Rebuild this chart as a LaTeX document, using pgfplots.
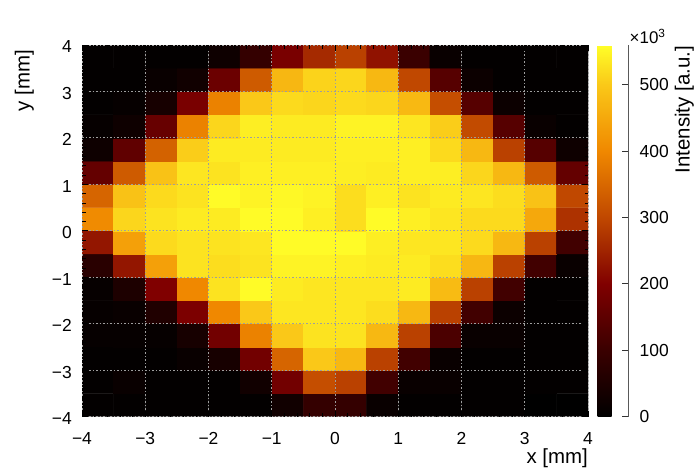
\documentclass[border=0pt]{standalone}
\usepackage{fontspec}
\setmainfont{Liberation Sans}
\usepackage{pgfplots}
\pgfplotsset{compat=1.18}
\usetikzlibrary{calc}

\pgfplotsset{
  colormap={hotish}{rgb255(0cm)=(0,0,0) rgb255(10cm)=(58,0,0) rgb255(20cm)=(128,0,0)
    rgb255(30cm)=(192,72,0) rgb255(40cm)=(240,136,0) rgb255(50cm)=(250,200,24)
    rgb255(56cm)=(255,255,40)},
}
\newcommand\tickfont{\fontsize{17.5}{20}\selectfont}
\newcommand\labfont{\fontsize{20.5}{24}\selectfont}

\begin{document}
\begin{tikzpicture}
\begin{axis}[
  scale only axis, width=506bp, height=371.5bp,
  xmin=-4, xmax=4, ymin=-4, ymax=4,
  axis on top,
  colormap name=hotish,
  point meta min=0, point meta max=560,
  xtick={-4,...,4}, ytick={-4,...,4},
  xticklabels={−4,−3,−2,−1,0,1,2,3,4},
  yticklabels={−4,−3,−2,−1,0,1,2,3,4},
  minor tick num=4,
  tick align=inside,
  major tick length=6bp, minor tick length=3.5bp,
  every tick/.style={black, line width=0.6bp},
  axis line style={draw=none},
  grid=major,
  major grid style={black!38, line width=0.8bp, dash pattern=on 1.5bp off 2bp},
  tick label style={font=\tickfont},
  xticklabel style={anchor=base, inner sep=0pt, yshift=-27.7bp},
  yticklabel style={anchor=east, inner sep=0pt, xshift=-10bp, yshift=-2bp},
  extra description/.code={
    \node[anchor=base east, inner sep=0pt, yshift=-47bp, font=\labfont] at (rel axis cs:1,0) {x [mm]};
    \node[xshift=-52.4bp, yshift=-5bp, rotate=90, anchor=base east, inner sep=0pt, font=\labfont] at (rel axis cs:0,1) {y [mm]};
  },
  colorbar,
  colorbar style={
    scale only axis, width=31bp, height=371.5bp,
    at={(parent axis.north east)}, anchor=north west, xshift=1bp,
    ytick={0,100,...,500},
    ytick pos=right, yticklabel pos=right,
    tick align=inside, major tick length=7bp,
    every tick/.style={black!80, line width=0.7bp},
    axis line style={draw=none},
    /pgf/number format/assume math mode=true,
    yticklabel style={anchor=west, inner sep=0pt, xshift=11bp, font=\tickfont},
    extra description/.code={
      \draw[black!65, line width=0.8bp] (rel axis cs:1,0) -- (rel axis cs:1,1);
      \node[anchor=base west, inner sep=0pt, xshift=1bp, yshift=1.4bp, font=\fontsize{17}{20}\selectfont]
        at (rel axis cs:1,1) {×10\textsuperscript{3}};
      \node[xshift=61bp, yshift=-1bp, rotate=90, anchor=base east, inner sep=0pt, font=\labfont]
        at (rel axis cs:1,1) {Intensity [a.u.]};
    },
  },
]
\addplot[matrix plot*, mesh/cols=16, point meta=explicit] coordinates {
(-3.75,-3.75) [5] (-3.25,-3.75) [5] (-2.75,-3.75) [5] (-2.25,-3.75) [5] (-1.75,-3.75) [5] (-1.25,-3.75) [5] (-0.75,-3.75) [30] (-0.25,-3.75) [90] (0.25,-3.75) [90] (0.75,-3.75) [15] (1.25,-3.75) [5] (1.75,-3.75) [5] (2.25,-3.75) [5] (2.75,-3.75) [5] (3.25,-3.75) [0] (3.75,-3.75) [0]
(-3.75,-3.25) [5] (-3.25,-3.25) [15] (-2.75,-3.25) [5] (-2.25,-3.25) [5] (-1.75,-3.25) [5] (-1.25,-3.25) [30] (-0.75,-3.25) [180] (-0.25,-3.25) [310] (0.25,-3.25) [290] (0.75,-3.25) [110] (1.25,-3.25) [15] (1.75,-3.25) [15] (2.25,-3.25) [5] (2.75,-3.25) [5] (3.25,-3.25) [5] (3.75,-3.25) [5]
(-3.75,-2.75) [5] (-3.25,-2.75) [5] (-2.75,-2.75) [5] (-2.25,-2.75) [15] (-1.75,-2.75) [40] (-1.25,-2.75) [180] (-0.75,-2.75) [345] (-0.25,-2.75) [500] (0.25,-2.75) [475] (0.75,-2.75) [290] (1.25,-2.75) [110] (1.75,-2.75) [15] (2.25,-2.75) [5] (2.75,-2.75) [5] (3.25,-2.75) [5] (3.75,-2.75) [5]
(-3.75,-2.25) [10] (-3.25,-2.25) [10] (-2.75,-2.25) [10] (-2.25,-2.25) [40] (-1.75,-2.25) [180] (-1.25,-2.25) [390] (-0.75,-2.25) [500] (-0.25,-2.25) [530] (0.25,-2.25) [530] (0.75,-2.25) [475] (1.25,-2.25) [290] (1.75,-2.25) [125] (2.25,-2.25) [15] (2.75,-2.25) [15] (3.25,-2.25) [5] (3.75,-2.25) [5]
(-3.75,-1.75) [10] (-3.25,-1.75) [15] (-2.75,-1.75) [55] (-2.25,-1.75) [195] (-1.75,-1.75) [400] (-1.25,-1.75) [500] (-0.75,-1.75) [533] (-0.25,-1.75) [533] (0.25,-1.75) [533] (0.75,-1.75) [523] (1.25,-1.75) [475] (1.75,-1.75) [290] (2.25,-1.75) [110] (2.75,-1.75) [20] (3.25,-1.75) [5] (3.75,-1.75) [5]
(-3.75,-1.25) [10] (-3.25,-1.25) [50] (-2.75,-1.25) [200] (-2.25,-1.25) [400] (-1.75,-1.25) [530] (-1.25,-1.25) [556] (-0.75,-1.25) [538] (-0.25,-1.25) [533] (0.25,-1.25) [533] (0.75,-1.25) [533] (1.25,-1.25) [538] (1.75,-1.25) [480] (2.25,-1.25) [290] (2.75,-1.25) [110] (3.25,-1.25) [5] (3.75,-1.25) [5]
(-3.75,-0.75) [70] (-3.25,-0.75) [230] (-2.75,-0.75) [437] (-2.25,-0.75) [530] (-1.75,-0.75) [523] (-1.25,-0.75) [530] (-0.75,-0.75) [547] (-0.25,-0.75) [547] (0.25,-0.75) [543] (0.75,-0.75) [538] (1.25,-0.75) [538] (1.75,-0.75) [523] (2.25,-0.75) [473] (2.75,-0.75) [290] (3.25,-0.75) [110] (3.75,-0.75) [15]
(-3.75,-0.25) [230] (-3.25,-0.25) [437] (-2.75,-0.25) [520] (-2.25,-0.25) [530] (-1.75,-0.25) [530] (-1.25,-0.25) [533] (-0.75,-0.25) [556] (-0.25,-0.25) [556] (0.25,-0.25) [556] (0.75,-0.25) [541] (1.25,-0.25) [533] (1.75,-0.25) [533] (2.25,-0.25) [520] (2.75,-0.25) [475] (3.25,-0.25) [290] (3.75,-0.25) [110]
(-3.75,0.25) [405] (-3.25,0.25) [515] (-2.75,0.25) [530] (-2.25,0.25) [538] (-1.75,0.25) [538] (-1.25,0.25) [556] (-0.75,0.25) [556] (-0.25,0.25) [543] (0.25,0.25) [523] (0.75,0.25) [556] (1.25,0.25) [543] (1.75,0.25) [533] (2.25,0.25) [520] (2.75,0.25) [520] (3.25,0.25) [450] (3.75,0.25) [270]
(-3.75,0.75) [345] (-3.25,0.75) [490] (-2.75,0.75) [520] (-2.25,0.75) [530] (-1.75,0.75) [556] (-1.25,0.75) [547] (-0.75,0.75) [552] (-0.25,0.75) [547] (0.25,0.75) [523] (0.75,0.75) [543] (1.25,0.75) [530] (1.75,0.75) [538] (2.25,0.75) [533] (2.75,0.75) [523] (3.25,0.75) [490] (3.75,0.75) [300]
(-3.75,1.25) [160] (-3.25,1.25) [330] (-2.75,1.25) [490] (-2.25,1.25) [533] (-1.75,1.25) [530] (-1.25,1.25) [543] (-0.75,1.25) [543] (-0.25,1.25) [543] (0.25,1.25) [541] (0.75,1.25) [538] (1.25,1.25) [543] (1.75,1.25) [541] (2.25,1.25) [515] (2.75,1.25) [475] (3.25,1.25) [330] (3.75,1.25) [160]
(-3.75,1.75) [25] (-3.25,1.75) [155] (-2.75,1.75) [340] (-2.25,1.75) [505] (-1.75,1.75) [538] (-1.25,1.75) [538] (-0.75,1.75) [538] (-0.25,1.75) [538] (0.25,1.75) [543] (0.75,1.75) [543] (1.25,1.75) [543] (1.75,1.75) [520] (2.25,1.75) [475] (2.75,1.75) [290] (3.25,1.75) [140] (3.75,1.75) [25]
(-3.75,2.25) [10] (-3.25,2.25) [25] (-2.75,2.25) [165] (-2.25,2.25) [390] (-1.75,2.25) [515] (-1.25,2.25) [541] (-0.75,2.25) [538] (-0.25,2.25) [538] (0.25,2.25) [547] (0.75,2.25) [547] (1.25,2.25) [533] (1.75,2.25) [505] (2.25,2.25) [305] (2.75,2.25) [140] (3.25,2.25) [15] (3.75,2.25) [5]
(-3.75,2.75) [5] (-3.25,2.75) [10] (-2.75,2.75) [40] (-2.25,2.75) [190] (-1.75,2.75) [390] (-1.25,2.75) [500] (-0.75,2.75) [520] (-0.25,2.75) [515] (0.25,2.75) [520] (0.75,2.75) [515] (1.25,2.75) [477] (1.75,2.75) [310] (2.25,2.75) [140] (2.75,2.75) [20] (3.25,2.75) [5] (3.75,2.75) [5]
(-3.75,3.25) [5] (-3.25,3.25) [5] (-2.75,3.25) [15] (-2.25,3.25) [30] (-1.75,3.25) [170] (-1.25,3.25) [330] (-0.75,3.25) [473] (-0.25,3.25) [512] (0.25,3.25) [515] (0.75,3.25) [475] (1.25,3.25) [300] (1.75,3.25) [140] (2.25,3.25) [20] (2.75,3.25) [5] (3.25,3.25) [5] (3.75,3.25) [5]
(-3.75,3.75) [5] (-3.25,3.75) [5] (-2.75,3.75) [5] (-2.25,3.75) [5] (-1.75,3.75) [25] (-1.25,3.75) [90] (-0.75,3.75) [190] (-0.25,3.75) [258] (0.25,3.75) [290] (0.75,3.75) [225] (1.25,3.75) [100] (1.75,3.75) [15] (2.25,3.75) [5] (2.75,3.75) [5] (3.25,3.75) [5] (3.75,3.75) [5]
};
\coordinate (SW) at (rel axis cs:0,0);
\coordinate (NE) at (rel axis cs:1,1);
\end{axis}
\path ($(SW)+(-82bp,-58.5bp)$) rectangle ($(NE)+(110bp,45bp)$);
\end{tikzpicture}
\end{document}
